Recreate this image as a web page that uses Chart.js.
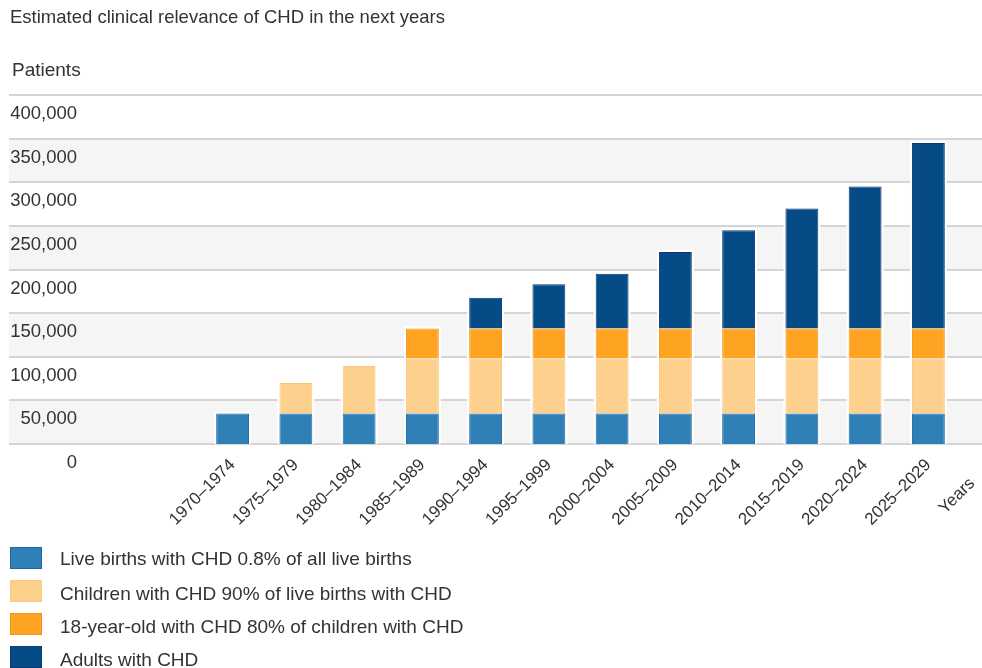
<!DOCTYPE html>
<html>
<head>
<meta charset="utf-8">
<script src="https://cdn.jsdelivr.net/npm/chart.js@4/dist/chart.umd.min.js"></script>
<style>
    body { margin: 0; background: #fff; }
    canvas { display: block; }
</style>
</head>
<body>
<canvas id="chdChart" width="982" height="668"></canvas>
<script>
// periods on the x axis
const periods = ['1970–1974', '1975–1979', '1980–1984', '1985–1989', '1990–1994', '1995–1999',
                 '2000–2004', '2005–2009', '2010–2014', '2015–2019', '2020–2024', '2025–2029'];

// patients per group
const liveBirths = [35000, 35000, 35000, 35000, 35000, 35000, 35000, 35000, 35000, 35000, 35000, 35000];
const children   = [0, 35000, 54500, 63000, 63000, 63000, 63000, 63000, 63000, 63000, 63000, 63000];
const teens      = [0, 0, 0, 34500, 34500, 34500, 34500, 34500, 34500, 34500, 34500, 34500];
const adults     = [0, 0, 0, 0, 35000, 50500, 62500, 87500, 112500, 137500, 162500, 212500];

const yTicks = [0, 50000, 100000, 150000, 200000, 250000, 300000, 350000, 400000];

const FONT = '"Liberation Sans", Arial, Helvetica, sans-serif';
const TEXT = '#333333';

// bands, grid lines, title, axis names and the legend
const decorations = {
    id: 'decorations',
    beforeDraw(chart) {
        const ctx = chart.ctx;
        const y = chart.scales.y;
        ctx.save();
        for (let i = 0; i < yTicks.length - 1; i += 2) {
            const top = y.getPixelForValue(yTicks[i + 1]);
            const bottom = y.getPixelForValue(yTicks[i]);
            ctx.fillStyle = '#f5f5f5';
            ctx.fillRect(9, top, chart.width - 9, bottom - top);
        }
        ctx.strokeStyle = '#d5d5d5';
        ctx.lineWidth = 2;
        yTicks.forEach(v => {
            const py = Math.round(y.getPixelForValue(v));
            ctx.beginPath();
            ctx.moveTo(9, py);
            ctx.lineTo(chart.width, py);
            ctx.stroke();
        });
        ctx.restore();
    },
    beforeDatasetsDraw(chart) {
        // thin white halo around every bar
        const ctx = chart.ctx;
        ctx.save();
        ctx.fillStyle = '#ffffff';
        chart.data.datasets.forEach((ds, i) => {
            chart.getDatasetMeta(i).data.forEach((bar, j) => {
                if (!ds.data[j]) return;
                const p = bar.getProps(['x', 'y', 'base', 'width'], true);
                const top = Math.min(p.y, p.base);
                const h = Math.abs(p.base - p.y);
                ctx.fillRect(p.x - p.width / 2 - 2, top - 2, p.width + 4, h + 2);
            });
        });
        ctx.restore();
    },
    afterDraw(chart) {
        const ctx = chart.ctx;
        const x = chart.scales.x;
        const y = chart.scales.y;
        ctx.save();
        ctx.fillStyle = TEXT;
        ctx.textBaseline = 'middle';
        ctx.textAlign = 'left';
        ctx.font = '18.5px ' + FONT;
        ctx.fillText('Estimated clinical relevance of CHD in the next years', 10, 18);
        ctx.font = '19px ' + FONT;
        ctx.fillText('Patients', 12, 71);

        // x axis name, tilted like the tick labels
        ctx.save();
        ctx.font = '17px ' + FONT;
        ctx.translate(x.right - 3, y.bottom + 52);
        ctx.rotate(-Math.PI / 4);
        ctx.textAlign = 'center';
        ctx.fillText('Years', 0, 0);
        ctx.restore();

        // legend, one row per group
        ctx.font = '19px ' + FONT;
        chart.data.datasets.forEach((ds, i) => {
            const top = 547 + i * 33;
            ctx.fillStyle = ds.backgroundColor;
            ctx.fillRect(10, top, 32, 22);
            ctx.strokeStyle = ds.borderColor;
            ctx.lineWidth = 1;
            ctx.strokeRect(10.5, top + 0.5, 31, 21);
            ctx.fillStyle = TEXT;
            ctx.fillText(ds.label, 60, top + 13 + (i ? 2 : 0));
        });
        ctx.restore();
    }
};

new Chart(document.getElementById('chdChart'), {
    type: 'bar',
    data: {
        labels: periods,
        datasets: [{
            label: 'Live births with CHD 0.8% of all live births',
            data: liveBirths,
            backgroundColor: '#2f80b7',
            borderColor: '#1867a8',
            borderWidth: 1
        }, {
            label: 'Children with CHD 90% of live births with CHD',
            data: children,
            backgroundColor: '#fed08d',
            borderColor: '#fcc77c',
            borderWidth: 1
        }, {
            label: '18-year-old with CHD 80% of children with CHD',
            data: teens,
            backgroundColor: '#fea322',
            borderColor: '#f99212',
            borderWidth: 1
        }, {
            label: 'Adults with CHD',
            data: adults,
            backgroundColor: '#054b85',
            borderColor: '#0a3b78',
            borderWidth: 1
        }]
    },
    options: {
        responsive: false,
        animation: false,
        events: [],
        barPercentage: 0.52,
        categoryPercentage: 1,
        layout: {
            padding: { top: 95, right: 22, bottom: 134, left: 0 }
        },
        plugins: {
            legend: { display: false },
            tooltip: { enabled: false }
        },
        scales: {
            x: {
                stacked: true,
                grid: { display: false },
                border: { display: false },
                ticks: {
                    minRotation: 45,
                    maxRotation: 45,
                    color: TEXT,
                    font: { family: FONT, size: 17 }
                },
                afterFit(scale) { scale.height = 90; }
            },
            y: {
                stacked: true,
                min: 0,
                max: 400000,
                grid: { display: false, drawTicks: false },
                border: { display: false },
                ticks: {
                    stepSize: 50000,
                    padding: 124,
                    labelOffset: 19,
                    color: TEXT,
                    font: { family: FONT, size: 18.5 },
                    callback: v => v.toLocaleString('en-US')
                },
                afterFit(scale) {
                    // labels sit far left, so drop the padding Chart.js reserves above/below
                    scale.width = 201;
                    scale.paddingTop = 0;
                    scale.paddingBottom = 0;
                }
            }
        }
    },
    plugins: [decorations]
});
</script>
</body>
</html>
